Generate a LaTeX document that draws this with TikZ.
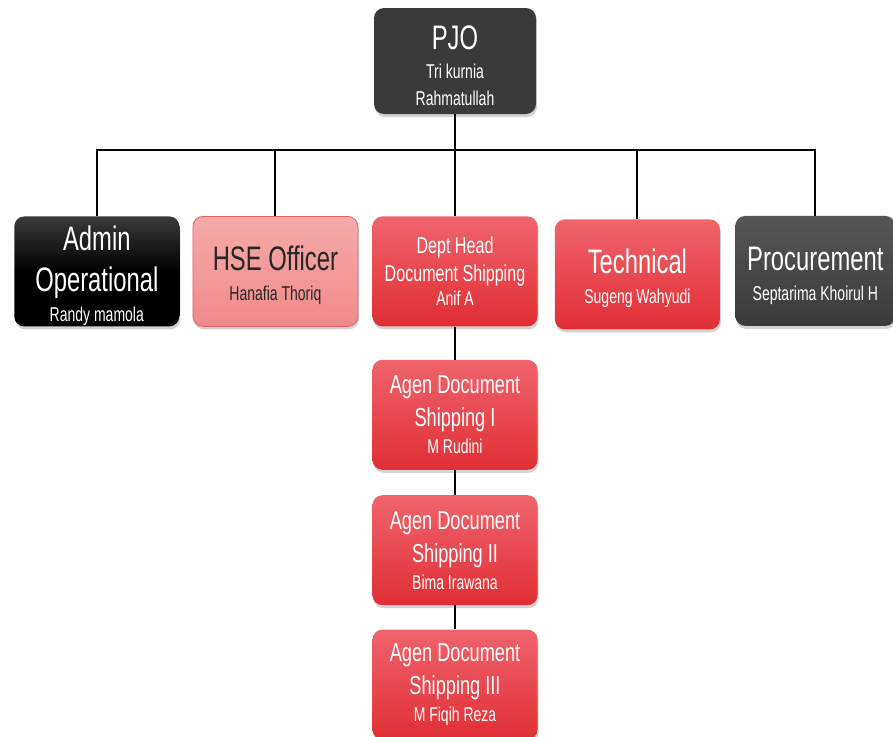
\documentclass[tikz,border=0pt]{standalone}
\usepackage{fontspec}
\setmainfont{Liberation Sans}[FakeStretch=0.7]
\usetikzlibrary{positioning,shadows}

\definecolor{redtop}{HTML}{F0646B}
\definecolor{redbot}{HTML}{E02E34}
\definecolor{pinktop}{HTML}{F5AAAA}
\definecolor{pinkbot}{HTML}{F08A8A}
\definecolor{pinkline}{HTML}{E86262}
\definecolor{greytop}{HTML}{565656}
\definecolor{greybot}{HTML}{3A3A3A}

\newcommand{\roletitle}[1]{{\fontsize{34}{34}\selectfont\rule{0pt}{33pt}#1}}
\newcommand{\rolemid}[1]{{\fontsize{23}{23}\selectfont #1}}
\newcommand{\roleagen}[1]{{\fontsize{26}{26}\selectfont #1}}

\tikzset{
  box/.style={rounded corners=10pt, minimum width=165pt, minimum height=110pt,
    inner sep=0pt, align=center, text=white, font=\fontsize{20}{27}\selectfont,
    drop shadow={shadow xshift=1pt, shadow yshift=-3pt, opacity=0.35}},
  redbox/.style={box, top color=redtop, bottom color=redbot},
  pinkbox/.style={box, draw=pinkline, line width=0.8pt, top color=pinktop,
    bottom color=pinkbot, text=black!85},
  greybox/.style={box, top color=greytop, bottom color=greybot},
  blackbox/.style={box, top color=greybot, bottom color=black, middle color=black},
  link/.style={line width=2pt}
}

\begin{document}
\begin{tikzpicture}[x=1pt,y=-1pt]
  \useasboundingbox (0,0) rectangle (893,736);

  % top of the chart
  \node[greybox, top color=greybot, minimum width=162pt, minimum height=106pt] (pjo) at (455,61)
    {\roletitle{PJO}\\[2pt]Tri kurnia\\Rahmatullah};

  % second row
  \node[redbox, font=\fontsize{20}{24}\selectfont] (dept) [below=102pt of pjo]
    {\rolemid{Dept Head}\\[4pt]\rolemid{Document Shipping}\\Anif A};
  \node[pinkbox] (hse) [left=14pt of dept]
    {\roletitle{HSE Officer}\\[3pt]Hanafia Thoriq};
  \node[blackbox] (admin) [left=13pt of hse]
    {\roletitle{Admin}\\[7pt]\roletitle{Operational}\\[3pt]Randy mamola};
  \node[redbox] (tech) [right=17pt of dept, yshift=-3pt]
    {\roletitle{Technical}\\[3pt]Sugeng Wahyudi};
  \node[greybox, minimum width=160pt] (proc) [right=15pt of tech, yshift=3.5pt]
    {\roletitle{Procurement}\\[3pt]Septarima Khoirul H};

  % agents under the dept head
  \node[redbox] (agen1) [below=33pt of dept]
    {\roleagen{Agen Document}\\[6pt]\roleagen{Shipping I}\\M Rudini};
  \node[redbox] (agen2) [below=25pt of agen1]
    {\roleagen{Agen Document}\\[6pt]\roleagen{Shipping II}\\Bima Irawana};
  \node[redbox] (agen3) [below=24pt of agen2]
    {\roleagen{Agen Document}\\[6pt]\roleagen{Shipping III}\\M Fiqih Reza};

  \coordinate (bus) at (455,150);
  \draw[link] (pjo) -- (dept);
  \draw[link] (admin.north) |- (bus) -| (proc.north);
  \draw[link] (hse.north) -- (hse.north |- bus);
  \draw[link] (tech.north) -- (tech.north |- bus);
  \draw[link] (dept) -- (agen1);
  \draw[link] (agen1) -- (agen2);
  \draw[link] (agen2) -- (agen3);
\end{tikzpicture}
\end{document}
